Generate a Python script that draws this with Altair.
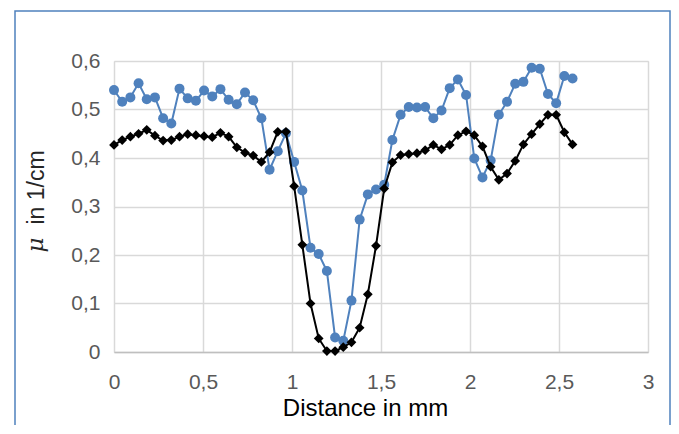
import altair as alt
import pandas as pd

# Attenuation profiles (mu in 1/cm) sampled along the distance axis (mm)
step_mm = 0.046
blue_mu = [0.540, 0.516, 0.525, 0.554, 0.521, 0.525, 0.482, 0.471, 0.543, 0.523,
           0.518, 0.539, 0.527, 0.542, 0.520, 0.511, 0.535, 0.519, 0.482, 0.376,
           0.414, 0.451, 0.392, 0.333, 0.215, 0.202, 0.167, 0.030, 0.023, 0.106,
           0.273, 0.325, 0.335, 0.345, 0.437, 0.489, 0.505, 0.504, 0.505, 0.482,
           0.498, 0.544, 0.562, 0.530, 0.399, 0.360, 0.395, 0.489, 0.516, 0.553,
           0.557, 0.586, 0.584, 0.532, 0.513, 0.569, 0.564]
black_mu = [0.427, 0.437, 0.444, 0.450, 0.458, 0.446, 0.436, 0.437, 0.444, 0.449,
            0.447, 0.445, 0.443, 0.452, 0.444, 0.422, 0.411, 0.405, 0.392, 0.412,
            0.454, 0.454, 0.342, 0.221, 0.100, 0.028, 0.002, 0.002, 0.010, 0.020,
            0.050, 0.119, 0.219, 0.337, 0.391, 0.406, 0.408, 0.410, 0.416, 0.427,
            0.418, 0.427, 0.447, 0.455, 0.447, 0.424, 0.382, 0.355, 0.368, 0.394,
            0.428, 0.449, 0.470, 0.489, 0.489, 0.453, 0.428]
distance = [round(i * step_mm, 4) for i in range(len(blue_mu))]

x_ticks = [0, 0.5, 1, 1.5, 2, 2.5, 3]
y_ticks = [0, 0.1, 0.2, 0.3, 0.4, 0.5, 0.6]

BLUE = "#4F81BD"
FONT = "Liberation Sans"

df_blue = pd.DataFrame({"d": distance, "mu": blue_mu})
df_black = pd.DataFrame({"d": distance, "mu": black_mu})

x_enc = alt.X("d:Q", scale=alt.Scale(domain=[0, 3], nice=False),
              axis=alt.Axis(values=x_ticks, title="Distance in mm",
                            labelExpr="replace(format(datum.value, '~g'), '.', ',')",
                            ticks=False, labelPadding=19, labelFontSize=21,
                            labelColor="#595959", labelFont=FONT, labelFlush=False,
                            titleFont=FONT, titleFontSize=24, titleFontWeight="normal",
                            titleColor="#000000", titleX=251, titleY=63,
                            titleBaseline="alphabetic",
                            grid=True, gridColor="#D9D9D9", gridWidth=1.5,
                            domainColor="#BFBFBF", domainWidth=1.5))
y_enc = alt.Y("mu:Q", scale=alt.Scale(domain=[0, 0.6], nice=False),
              axis=alt.Axis(values=y_ticks, title="in 1/cm",
                            labelExpr="datum.value == 0 ? '0' : replace(format(datum.value, '.1f'), '.', ',')",
                            ticks=False, labelPadding=14, labelFontSize=21,
                            labelColor="#595959", labelFont=FONT,
                            titleFont=FONT, titleFontSize=23, titleFontWeight="normal",
                            titleColor="#262626", titleAngle=-90, titleX=-71, titleY=126,
                            titleBaseline="alphabetic", titleAlign="center",
                            grid=True, gridColor="#D9D9D9", gridWidth=1.5,
                            domain=False))

blue_line = alt.Chart(df_blue).mark_line(
    color=BLUE, strokeWidth=2,
    point=alt.OverlayMarkDef(shape="circle", size=100, filled=True, color=BLUE, opacity=1)
).encode(x=x_enc, y=y_enc)

black_line = alt.Chart(df_black).mark_line(
    color="#000000", strokeWidth=2,
    point=alt.OverlayMarkDef(shape="diamond", size=95, filled=True, color="#000000", opacity=1)
).encode(x="d:Q", y="mu:Q")

one_row = pd.DataFrame({"a": [0]})

mu_symbol = alt.Chart(one_row).mark_text(
    text="μ", font="DejaVu Serif", fontStyle="italic", fontSize=23, angle=270,
    align="center", baseline="alphabetic", color="#262626"
).encode(x=alt.value(-71), y=alt.value(184))

border = alt.Chart(one_row).mark_rect(
    filled=False, stroke=BLUE, strokeWidth=1.5
).encode(x=alt.value(-99), x2=alt.value(556), y=alt.value(-50), y2=alt.value(400))

chart = alt.layer(border, blue_line, black_line, mu_symbol).properties(
    width=534, height=291,
    padding={"left": 106, "top": 53, "right": 23, "bottom": 73},
    autosize=alt.AutoSizeParams(type="none"),
).configure_view(stroke=None).configure(background="white")

chart.save("out.html", embed_options={"renderer": "svg", "actions": False})
